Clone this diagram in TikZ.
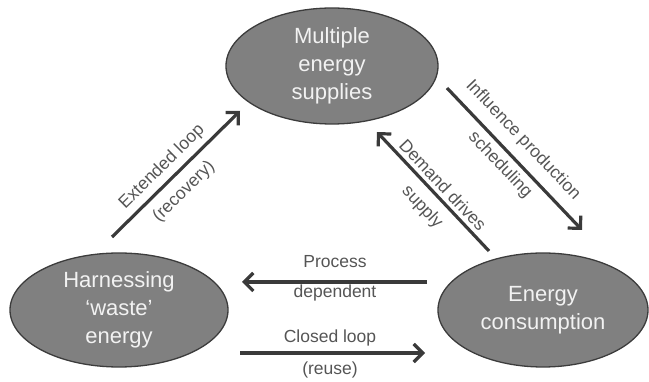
\documentclass[tikz,border=0pt]{standalone}
\usepackage{fontspec}
\setmainfont{Liberation Sans}
\usetikzlibrary{shapes.geometric,arrows.meta}
\definecolor{ellfill}{HTML}{808080}
\definecolor{elldraw}{HTML}{3C3C3C}
\definecolor{arr}{HTML}{3A3A3A}
\definecolor{lab}{HTML}{555555}
\begin{document}
\begin{tikzpicture}[x=1pt,y=-1pt,
  blob/.style={ellipse,draw=elldraw,line width=1.3pt,fill=ellfill,text=white!95!black,
    inner sep=0pt,align=center,font=\fontsize{22}{28}\selectfont},
  flow/.style={draw=arr,line width=3.2pt,-{Straight Barb[length=9pt,width=18pt,line width=3.2pt]}},
  lbl/.style={text=lab,font=\fontsize{17.5}{21}\selectfont,inner sep=0pt}]
\useasboundingbox (0,0) rectangle (649,382);
\node[blob,minimum width=212pt,minimum height=116pt] (top) at (332,66) {Multiple\\energy\\supplies};
\node[blob,minimum width=218pt,minimum height=114pt] (left) at (119,310) {Harnessing\\‘waste’\\energy};
\node[blob,minimum width=210pt,minimum height=114pt] (right) at (543,310) {Energy\\consumption};
% connector end points
\coordinate (e1) at (112,237); \coordinate (e2) at (240,111);
\coordinate (i1) at (447,88);  \coordinate (i2) at (582,230);
\coordinate (d1) at (489,251); \coordinate (d2) at (377,132);
\coordinate (p1) at (427,282); \coordinate (p2) at (242,282);
\coordinate (c1) at (240,353); \coordinate (c2) at (425,353);
\draw[flow] (e1) -- (e2);
\draw[flow] (i1) -- (i2);
\draw[flow] (d1) -- (d2);
\draw[flow] (p1) -- (p2);
\draw[flow] (c1) -- (c2);
% labels
\node[lbl,rotate=44.6] (le1) at (162,167) {Extended loop};
\node[lbl,rotate=44.6] (le2) at (184,192) {(recovery)};
\node[lbl,rotate=-46.4] (li1) at (523,140) {Influence production};
\node[lbl,rotate=-46.4] (li2) at (500,165) {scheduling};
\node[lbl,rotate=-46.7] (ld1) at (443,185) {Demand drives};
\node[lbl,rotate=-46.7] (ld2) at (422,207) {supply};
\node[lbl] (lp1) at (335,262) {Process};
\node[lbl] (lp2) at (335,293) {dependent};
\node[lbl] (lc1) at (330,338) {Closed loop};
\node[lbl] (lc2) at (330,370) {(reuse)};
\end{tikzpicture}
\end{document}
